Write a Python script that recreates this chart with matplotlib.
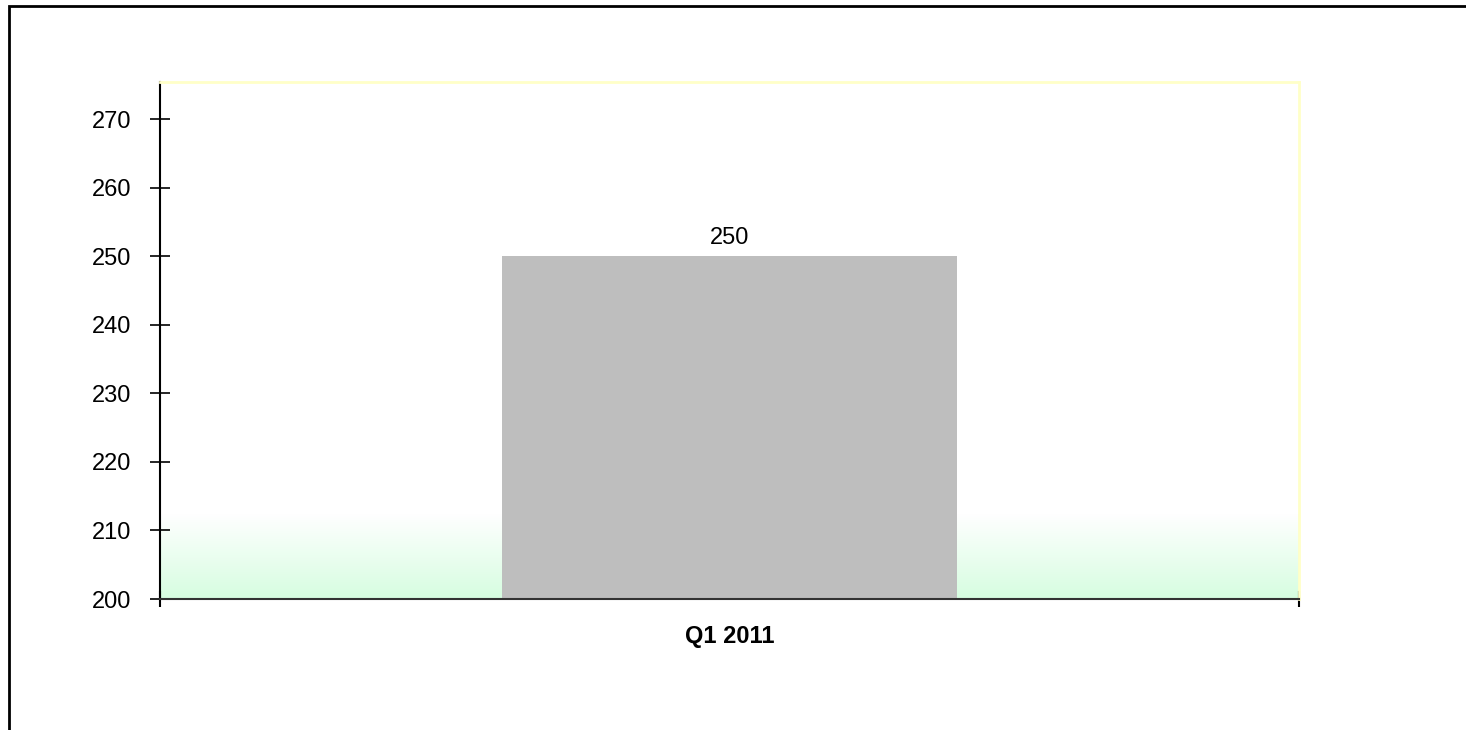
import matplotlib.pyplot as plt
import numpy as np
from matplotlib.patches import Rectangle
from matplotlib.colors import LinearSegmentedColormap

plt.rcParams['font.family'] = ['Liberation Sans', 'DejaVu Sans']

categories = ['Q1 2011']
values = [250]
y_ticks = [200, 210, 220, 230, 240, 250, 260, 270]

fig = plt.figure(figsize=(14.66, 7.30), dpi=100)

# outer frame, cropped on the right and bottom
fig.patches.append(Rectangle((9 / 1466, -0.2), 1.2, (730 - 6) / 730 + 0.2,
                             transform=fig.transFigure, fill=False,
                             edgecolor='black', linewidth=2))

ax = fig.add_axes([160 / 1466, 131 / 730, 1139 / 1466, 517 / 730])
ymin, ymax = 200, 275.4
ax.set_xlim(-0.5, 0.5)
ax.set_ylim(ymin, ymax)

# green gradient at the floor of the plot area
cmap = LinearSegmentedColormap.from_list('floor', ['#d6fde0', '#ffffff'])
grad = np.linspace(0, 1, 256).reshape(-1, 1)
ax.imshow(grad, cmap=cmap, aspect='auto', origin='lower',
          extent=(-0.5, 0.5, ymin, ymin + 12.3), zorder=0)

x = np.arange(len(categories))
bars = ax.bar(x, values, width=0.4, color='#bebebe', zorder=2)
for b, v in zip(bars, values):
    ax.text(b.get_x() + b.get_width() / 2, v + 1.0, str(v),
            ha='center', va='bottom', fontsize=17)

ax.set_yticks(y_ticks)
ax.tick_params(axis='y', direction='inout', length=15, width=1.2,
               labelsize=17, pad=13)
ax.set_xticks([-0.5, 0.5])
ax.set_xticklabels([])
ax.tick_params(axis='x', direction='inout', length=12, width=1.5)
ax.text(0, -0.05, categories[0], transform=ax.get_xaxis_transform(),
        ha='center', va='top', fontsize=17, fontweight='bold')

ax.spines['top'].set_color('#ffffc8')
ax.spines['right'].set_color('#ffffc8')
ax.spines['top'].set_linewidth(2)
ax.spines['right'].set_linewidth(2)
ax.spines['left'].set_linewidth(1.5)
ax.spines['bottom'].set_linewidth(1.5)
ax.spines['bottom'].set_color('#333333')

fig.savefig('out.png', dpi=100)
